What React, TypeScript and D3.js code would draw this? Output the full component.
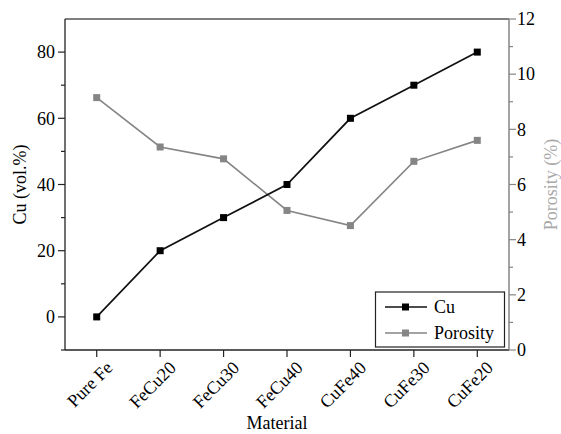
import React from "react";
import * as d3 from "d3";

const categories = ["Pure Fe", "FeCu20", "FeCu30", "FeCu40", "CuFe40", "CuFe30", "CuFe20"];
const cuValues = [0, 20, 30, 40, 60, 70, 80];
const porosityValues = [9.15, 7.36, 6.93, 5.06, 4.51, 6.84, 7.6];
const leftTicks = [0, 20, 40, 60, 80];
const leftMinorTicks = [-10, 10, 30, 50, 70];
const rightTicks = [0, 2, 4, 6, 8, 10, 12];
const rightMinorTicks = [1, 3, 5, 7, 9, 11];

const W = 561, H = 434;
const L = 65, R = 509, T = 19, B = 350;
const FONT = "'Liberation Serif', 'Times New Roman', serif";
const GRAY = "#858585";

export default function App() {
  const x = d3.scalePoint<string>().domain(categories).range([L, R]).padding(0.5);
  const yL = d3.scaleLinear().domain([-10, 90]).range([B, T]);
  const yR = d3.scaleLinear().domain([0, 12]).range([B, T]);

  const cuLine = d3.line<number>().x((_, i) => x(categories[i])!).y((d) => yL(d));
  const porLine = d3.line<number>().x((_, i) => x(categories[i])!).y((d) => yR(d));
  const ms = 7;

  return (
    <svg width={W} height={H} style={{ position: "absolute", left: 0, top: 0, background: "#fff" }} fontFamily={FONT}>
      {/* frame */}
      <line x1={L} x2={R} y1={T} y2={T} stroke="#555" strokeWidth={1.3} />
      <line x1={L} x2={L} y1={T} y2={B} stroke="#222" strokeWidth={1.3} />
      <line x1={L} x2={R} y1={B} y2={B} stroke="#222" strokeWidth={1.3} />
      <line x1={R} x2={R} y1={T} y2={B} stroke={GRAY} strokeWidth={1.5} />

      {/* left axis */}
      {leftTicks.map((t) => (
        <g key={"l" + t}>
          <line x1={L - 7} x2={L} y1={yL(t)} y2={yL(t)} stroke="#222" strokeWidth={1.2} />
          <text x={L - 10} y={yL(t)} dy="0.35em" textAnchor="end" fontSize={18}>{t}</text>
        </g>
      ))}
      {leftMinorTicks.map((t) => (
        <line key={"lm" + t} x1={L - 4} x2={L} y1={yL(t)} y2={yL(t)} stroke="#222" strokeWidth={1.2} />
      ))}
      <text transform={`translate(20,${(T + B) / 2}) rotate(-90)`} textAnchor="middle" dy="0.35em" fontSize={18}>Cu (vol.%)</text>

      {/* right axis */}
      {rightTicks.map((t) => (
        <g key={"r" + t}>
          <line x1={R} x2={R + 7} y1={yR(t)} y2={yR(t)} stroke={GRAY} strokeWidth={1.2} />
          <text x={R + 8} y={yR(t)} dy="0.35em" textAnchor="start" fontSize={18}>{t}</text>
        </g>
      ))}
      {rightMinorTicks.map((t) => (
        <line key={"rm" + t} x1={R} x2={R + 4} y1={yR(t)} y2={yR(t)} stroke={GRAY} strokeWidth={1.2} />
      ))}
      <text transform={`translate(551,${(T + B) / 2}) rotate(-90)`} textAnchor="middle" dy="0.35em" fontSize={18} fill="#a8a8a8">Porosity (%)</text>

      {/* bottom axis */}
      {categories.map((c) => (
        <g key={c}>
          <line x1={x(c)!} x2={x(c)!} y1={B} y2={B + 7} stroke="#222" strokeWidth={1.2} />
          <text transform={`translate(${x(c)! + 8},${B + 10}) rotate(-45)`} textAnchor="end" dy="0.7em" fontSize={18}>{c}</text>
        </g>
      ))}
      <text x={277} y={429} textAnchor="middle" fontSize={18}>Material</text>

      {/* series */}
      <path d={porLine(porosityValues)!} fill="none" stroke={GRAY} strokeWidth={1.6} />
      <path d={cuLine(cuValues)!} fill="none" stroke="#111" strokeWidth={1.7} />
      {porosityValues.map((v, i) => (
        <rect key={"p" + i} x={x(categories[i])! - ms / 2} y={yR(v) - ms / 2} width={ms} height={ms} fill={GRAY} />
      ))}
      {cuValues.map((v, i) => (
        <rect key={"c" + i} x={x(categories[i])! - ms / 2} y={yL(v) - ms / 2} width={ms} height={ms} fill="#000" />
      ))}

      {/* legend */}
      <rect x={375.5} y={292} width={129} height={55} fill="#fff" stroke="#222" strokeWidth={1.2} />
      <line x1={385} x2={427} y1={307} y2={307} stroke="#111" strokeWidth={1.5} />
      <rect x={405.5 - 3.5} y={307 - 3.5} width={7} height={7} fill="#000" />
      <text x={434} y={307} dy="0.35em" fontSize={18}>Cu</text>
      <line x1={385} x2={427} y1={333} y2={333} stroke={GRAY} strokeWidth={1.5} />
      <rect x={405.5 - 3.5} y={333 - 3.5} width={7} height={7} fill={GRAY} />
      <text x={434} y={333} dy="0.35em" fontSize={18}>Porosity</text>
    </svg>
  );
}
